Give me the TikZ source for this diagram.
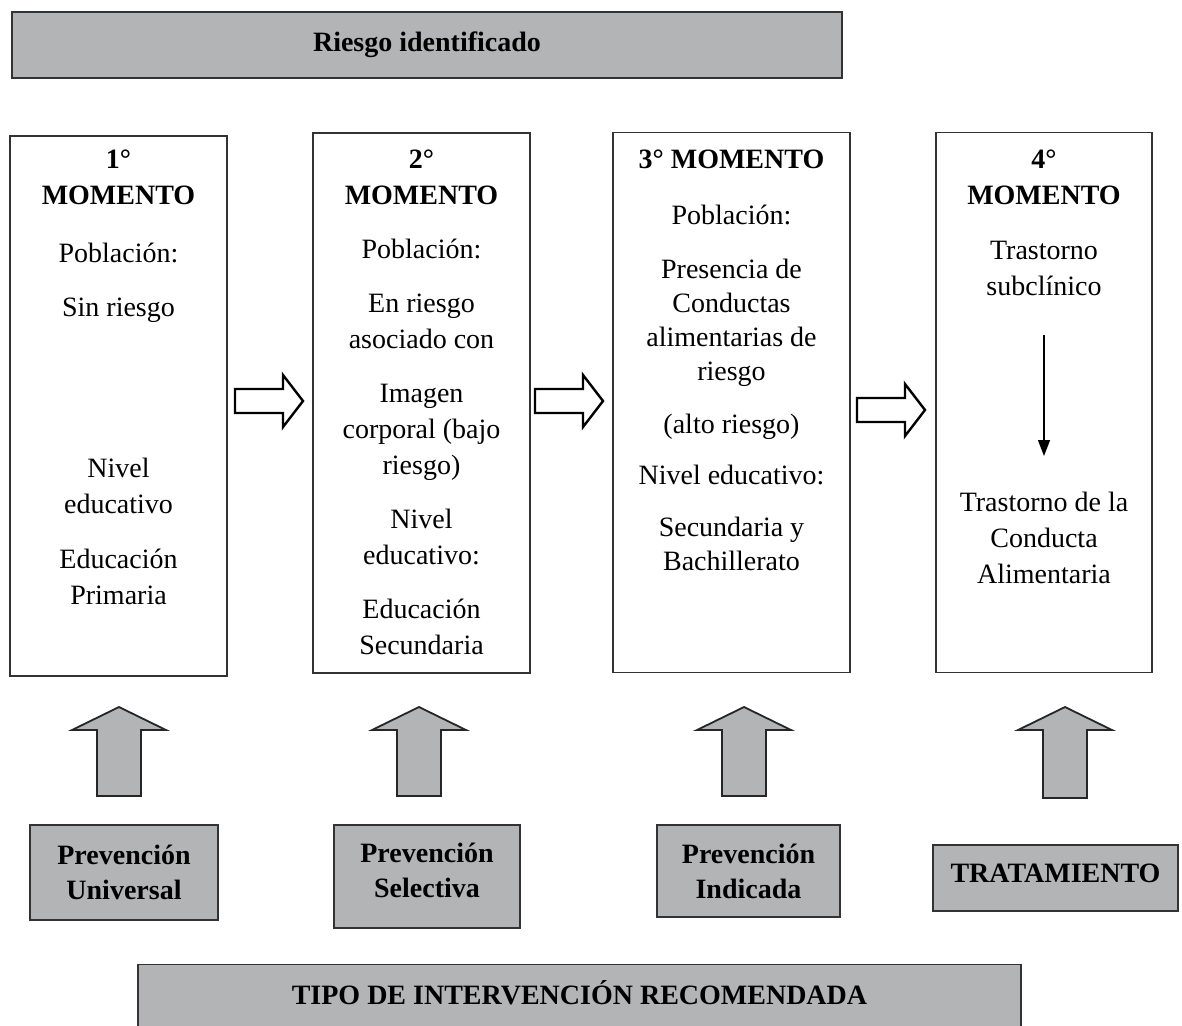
\documentclass[tikz,border=0pt]{standalone}
\usepackage{fontspec}
\setmainfont{Liberation Serif}
\usetikzlibrary{arrows.meta}
\definecolor{grisbox}{RGB}{178,180,182}
\begin{document}
\begin{tikzpicture}
  [x=1pt,y=-1pt,
   momento/.style={draw=black!80,line width=1.4pt,minimum height=540pt,inner sep=0pt},
   texto/.style={anchor=north,align=center,inner sep=0pt,font=\fontsize{28}{36}\selectfont},
   gris/.style={draw=black!80,line width=1.4pt,fill=grisbox,inner sep=0pt,align=center,font=\fontsize{28}{35}\selectfont\bfseries}]
  \tikzstyle{hueca} = [draw=black,line width=2.4pt,fill=white]
  \tikzstyle{subida} = [draw=black!85,line width=1.8pt,fill=grisbox]
  \useasboundingbox (0,0) rectangle (1182,1025);

  \node[gris,minimum width=830pt,minimum height=66pt] (riesgo) at (427,45) {Riesgo identificado};

  % momentos
  \node[momento,minimum width=217pt] (m1) at (118.5,406) {};
  \node[momento,minimum width=217pt] (m2) at (421.5,403) {};
  \node[momento,minimum width=237pt] (m3) at (731.5,402.5) {};
  \node[momento,minimum width=216pt] (m4) at (1044,402.5) {};

  \node[texto] (t1) at (118.5,150) {\textbf{1°}\\\textbf{MOMENTO}\\[22pt]Población:\\[18pt]Sin riesgo\\[125pt]Nivel\\educativo\\[19pt]Educación\\Primaria};
  \node[texto] (t2) at (421.5,150) {\textbf{2°}\\\textbf{MOMENTO}\\[18pt]Población:\\[18pt]En riesgo\\asociado con\\[18pt]Imagen\\corporal (bajo\\riesgo)\\[18pt]Nivel\\educativo:\\[18pt]Educación\\Secundaria};
  \node[texto,font=\fontsize{28}{34}\selectfont] (t3) at (731.5,150) {\textbf{3° MOMENTO}\\[22pt]Población:\\[20pt]Presencia de\\Conductas\\alimentarias de\\riesgo\\[19pt](alto riesgo)\\[17pt]Nivel educativo:\\[18pt]Secundaria y\\Bachillerato};
  \node[texto] (t4a) at (1044,150) {\textbf{4°}\\\textbf{MOMENTO}\\[19pt]Trastorno\\subclínico};
  \node[texto] (t4b) at (1044,492) {Trastorno de la\\Conducta\\Alimentaria};
  \draw[-{Triangle[width=12pt,length=16pt]},line width=1.3pt,shorten <=39pt,shorten >=36pt] (t4a) -- (t4b);

  % flechas entre momentos
  \foreach \x/\y in {235/401,535/401,857/410}
    \draw[hueca] (\x,\y-12) -- (\x+48,\y-12) -- (\x+48,\y-26) -- (\x+68,\y) -- (\x+48,\y+26) -- (\x+48,\y+12) -- (\x,\y+12) -- cycle;

  % flechas de intervencion
  \foreach \x/\b in {119/796,419/796,744/796,1065/798}
    \draw[subida] (\x-22,\b) -- (\x-22,730) -- (\x-47,730) -- (\x,707) -- (\x+47,730) -- (\x+22,730) -- (\x+22,\b) -- cycle;

  \node[gris,minimum width=188pt,minimum height=95pt] (b1) at (124,872.5) {Prevención\\Universal};
  \node[gris,minimum width=186pt,minimum height=103pt,text depth=12pt] (b2) at (427,876.5) {Prevención\\Selectiva};
  \node[gris,minimum width=183pt,minimum height=92pt] (b3) at (748.5,871) {Prevención\\Indicada};
  \node[gris,minimum width=245pt,minimum height=66pt,text depth=10pt] (b4) at (1055.5,878) {TRATAMIENTO};

  \node[gris,minimum width=883pt,minimum height=80pt,anchor=north] (barra) at (579.5,964) {};
  \node[font=\fontsize{28}{35}\selectfont\bfseries,inner sep=0pt] (tipo) at (579.5,993) {TIPO DE INTERVENCIÓN RECOMENDADA};
\end{tikzpicture}
\end{document}
